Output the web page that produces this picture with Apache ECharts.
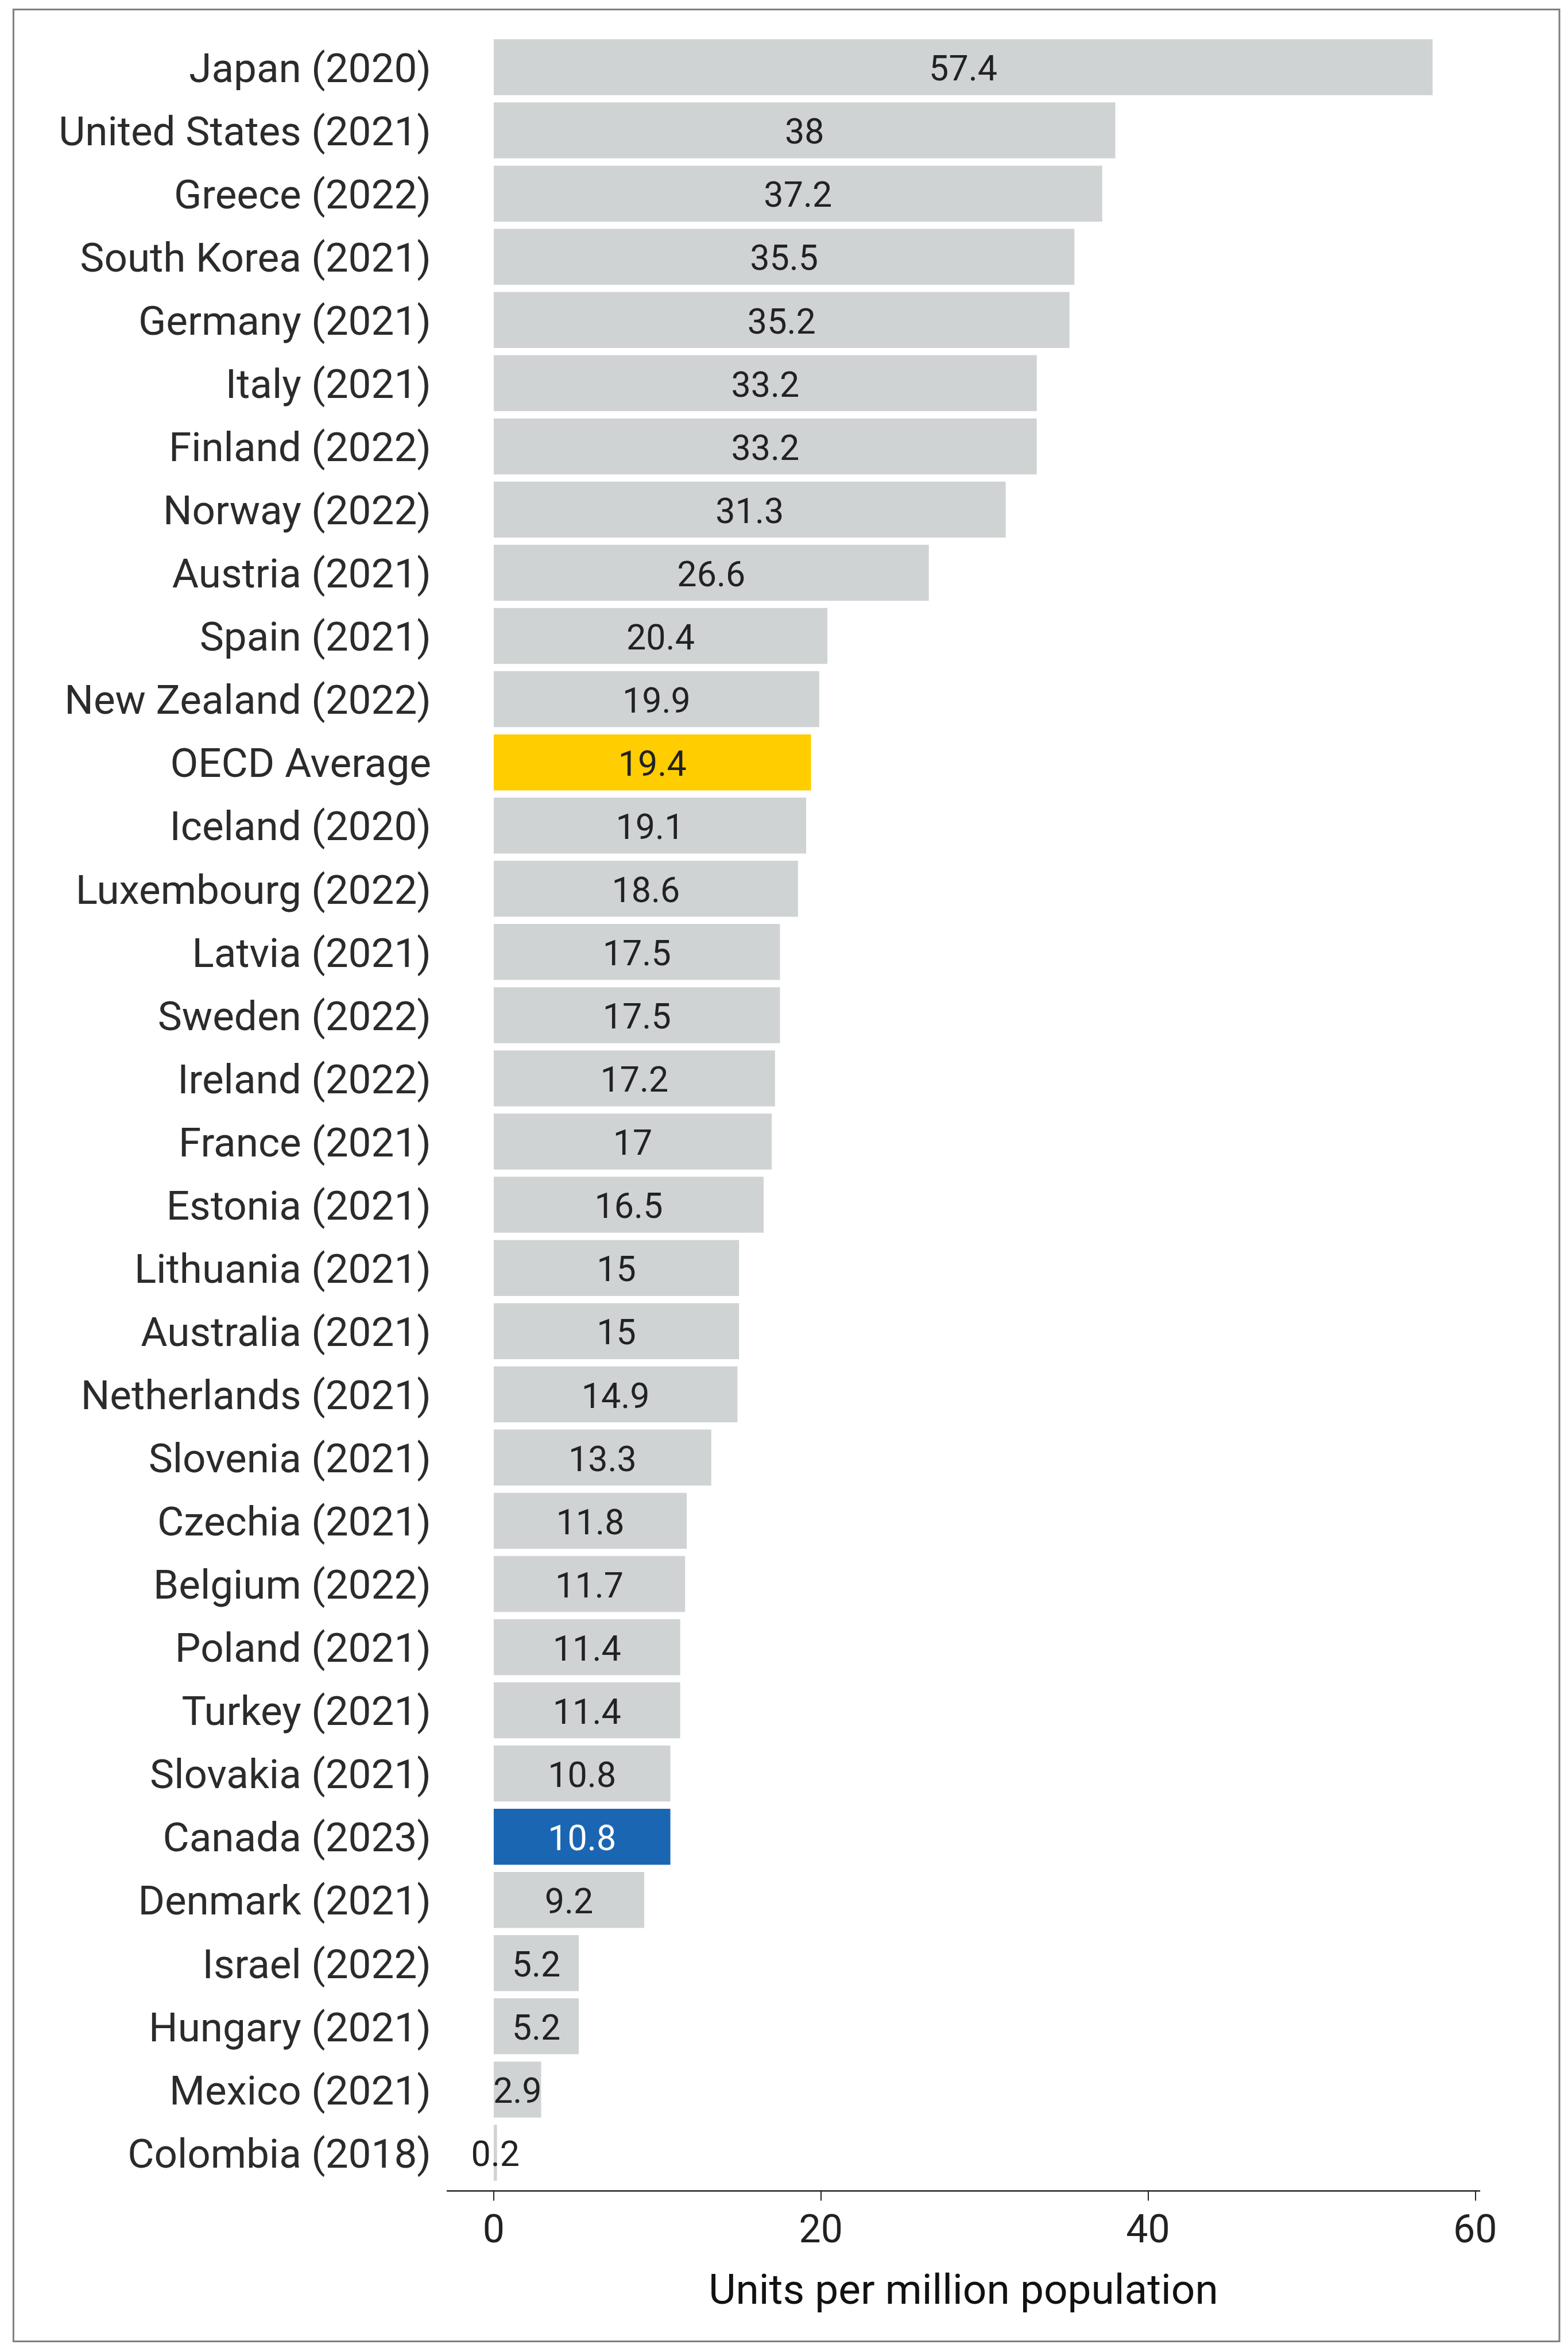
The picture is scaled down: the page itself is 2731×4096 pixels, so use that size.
<!DOCTYPE html>
<html>
<head>
<meta charset="utf-8">
<style>
  html, body { margin: 0; padding: 0; background: #ffffff; }
  #chart { width: 2731px; height: 4096px; }
</style>
<script src="https://cdn.jsdelivr.net/npm/echarts@6/dist/echarts.min.js"></script>
</head>
<body>
<div id="chart"></div>
<script>
const categories = [
  "Japan (2020)", "United States (2021)", "Greece (2022)", "South Korea (2021)",
  "Germany (2021)", "Italy (2021)", "Finland (2022)", "Norway (2022)",
  "Austria (2021)", "Spain (2021)", "New Zealand (2022)", "OECD Average",
  "Iceland (2020)", "Luxembourg (2022)", "Latvia (2021)", "Sweden (2022)",
  "Ireland (2022)", "France (2021)", "Estonia (2021)", "Lithuania (2021)",
  "Australia (2021)", "Netherlands (2021)", "Slovenia (2021)", "Czechia (2021)",
  "Belgium (2022)", "Poland (2021)", "Turkey (2021)", "Slovakia (2021)",
  "Canada (2023)", "Denmark (2021)", "Israel (2022)", "Hungary (2021)",
  "Mexico (2021)", "Colombia (2018)"
];
const values = [
  57.4, 38, 37.2, 35.5, 35.2, 33.2, 33.2, 31.3, 26.6, 20.4, 19.9, 19.4,
  19.1, 18.6, 17.5, 17.5, 17.2, 17, 16.5, 15, 15, 14.9, 13.3, 11.8,
  11.7, 11.4, 11.4, 10.8, 10.8, 9.2, 5.2, 5.2, 2.9, 0.2
];
const xTicks = [0, 20, 40, 60];
const axisTitle = "Units per million population";

const baseColor = "#d0d3d4";
const highlightColors = { "OECD Average": "#ffcd00", "Canada (2023)": "#1b66b2" };
const highlightLabelColors = { "Canada (2023)": "#ffffff" };

const seriesData = values.map((v, i) => {
  const c = categories[i];
  return {
    value: v,
    itemStyle: { color: highlightColors[c] || baseColor },
    label: { color: highlightLabelColors[c] || "#222222" }
  };
});

const chart = echarts.init(document.getElementById("chart"), null, { renderer: "canvas" });
chart.setOption({
  animation: false,
  backgroundColor: "#ffffff",
  textStyle: { fontFamily: "Roboto" },
  grid: { left: 779, right: 154, top: 62, bottom: 292, containLabel: false },
  xAxis: {
    type: "value",
    min: -2.84,
    max: 60.27,
    offset: 11,
    name: axisTitle,
    nameLocation: "middle",
    nameGap: 142,
    nameTextStyle: { fontFamily: "Roboto", fontSize: 73, color: "#111111" },
    axisLine: { show: true, lineStyle: { color: "#222222", width: 2.5 } },
    axisTick: { show: true, length: 17.5, lineStyle: { color: "#222222", width: 2 }, customValues: xTicks },
    axisLabel: { show: true, margin: 39, fontFamily: "Roboto", fontSize: 68, color: "#222222", customValues: xTicks },
    splitLine: { show: false }
  },
  yAxis: {
    type: "category",
    inverse: true,
    data: categories,
    axisLine: { show: false },
    axisTick: { show: false },
    axisLabel: {
      margin: 28, fontFamily: "Roboto", fontSize: 71, color: "#2b2b2b",
      verticalAlign: "top", lineHeight: 16
    }
  },
  series: [{
    type: "bar",
    data: seriesData,
    barCategoryGap: "11.4%",
    label: {
      show: true,
      position: "inside",
      offset: [0, 8],
      fontFamily: "Roboto",
      fontSize: 61,
      color: "#222222"
    }
  }],
  graphic: [{
    type: "rect",
    shape: { x: 23.4, y: 16.6, width: 2692.6, height: 4061 },
    style: { fill: null, stroke: "#7c7f82", lineWidth: 3 },
    silent: true
  }]
});
</script>
</body>
</html>
